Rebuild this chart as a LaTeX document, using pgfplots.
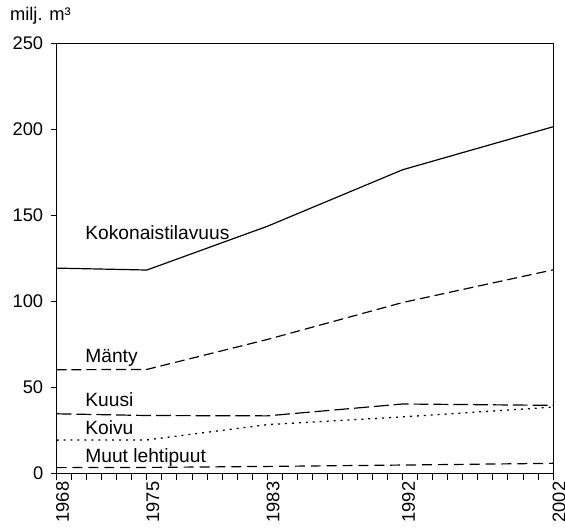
\documentclass[border=0pt]{standalone}
\usepackage{pgfplots}
\pgfplotsset{compat=1.18}
\usepackage{fontspec}
\setmainfont{Liberation Sans}
\begin{document}
\begin{tikzpicture}
\begin{axis}[
  scale only axis,
  width=500bp, height=433bp,
  xmin=1969, xmax=2002, ymin=0, ymax=250,
  xtick={1969,1975,1983,1992,2002},
  xticklabels={1968,1975,1983,1992,2002},
  minor xtick={1969,...,2002},
  ytick={0,50,...,250},
  tick align=outside,
  xtick pos=bottom, ytick pos=left,
  major tick length=6bp, minor tick length=6bp,
  x tick label style={rotate=90, anchor=east, inner ysep=0pt, inner xsep=2bp, yshift=-6bp},
  y tick label style={xshift=-4bp},
  tick label style={font=\fontsize{18.5}{20}\selectfont},
  /pgf/number format/assume math mode=true,
  axis line style={line width=1.1bp},
  every tick/.style={black, line width=0.9bp},
  clip=false,
]
% Kokonaistilavuus
\addplot[black, line width=1.2bp] coordinates {
  (1969,119.5) (1975,118.4) (1983,143.8) (1992,176.7) (2002,201.7)};
% Manty
\addplot[black, line width=1.2bp, dash pattern=on 10bp off 5bp] coordinates {
  (1969,60.4) (1975,60.6) (1983,78) (1992,99.5) (2002,118.5)};
% Kuusi
\addplot[black, line width=1.2bp, dash pattern=on 15bp off 5bp] coordinates {
  (1969,34.8) (1975,33.8) (1983,33.6) (1992,40.5) (2002,39.7)};
% Koivu
\addplot[black, line width=1.3bp, dash pattern=on 2bp off 5bp] coordinates {
  (1969,19.5) (1975,19.6) (1983,28.5) (1992,33) (2002,38.7)};
% Muut lehtipuut
\addplot[black, line width=1.2bp, dash pattern=on 10bp off 6bp] coordinates {
  (1969,3.5) (1975,3.6) (1983,4.2) (1992,5.0) (2002,6.0)};

\begin{scope}[every node/.style={anchor=base west, inner sep=0pt, font=\fontsize{19.4}{21}\selectfont}]
\node at (axis cs:1970.9,136.3) {Kokonaistilavuus};
\node at (axis cs:1970.9,64.7) {Mänty};
\node at (axis cs:1970.9,39.3) {Kuusi};
\node at (axis cs:1970.9,22.5) {Koivu};
\node at (axis cs:1970.9,6.5) {Muut lehtipuut};
\end{scope}
\node[anchor=base west, inner sep=0pt, font=\fontsize{18.5}{20}\selectfont]
  at (rel axis cs:0,1) [xshift=-47bp, yshift=23bp] {milj. m³};
% page corners as in the reference
\coordinate (bbA) at ([xshift=-57bp, yshift=44bp]rel axis cs:0,1);
\coordinate (bbB) at ([xshift=12bp, yshift=-56bp]rel axis cs:1,0);
\end{axis}
\pgfresetboundingbox
\path[use as bounding box] (bbA) rectangle (bbB);
\end{tikzpicture}
\end{document}
